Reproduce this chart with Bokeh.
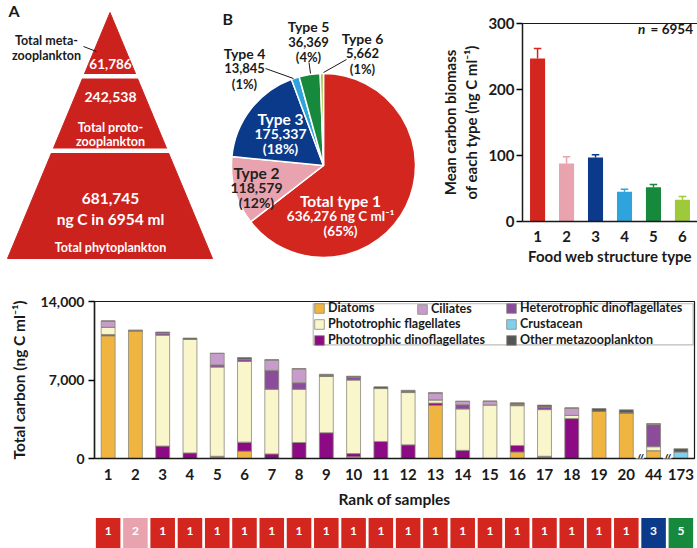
import math

from bokeh.core.properties import value
from bokeh.embed import file_html
from bokeh.layouts import column, row
from bokeh.models import (BoxAnnotation, ColumnDataSource, FixedTicker, Label,
                          Legend, LegendItem, LinearAxis, NumeralTickFormatter,
                          Range1d)
from bokeh.plotting import figure
from bokeh.resources import INLINE

FONT = "Lato"

# ---------------- data ----------------
# A: carbon of each trophic level (ng C in 6954 ml)
tier_names = ["Total metazooplankton", "Total protozooplankton", "Total phytoplankton"]
tier_carbon = [61786, 242538, 681745]

# B: total carbon by food web structure type (ng C ml^-1)
type_names = ["Type 1", "Type 2", "Type 3", "Type 4", "Type 5", "Type 6"]
type_totals = [636276, 118579, 175337, 13845, 36369, 5662]
type_colors = ["#d2261f", "#e8a3ae", "#0c3a8a", "#2ea3dc", "#17893d", "#9dc93b"]

# C: mean carbon biomass per type with standard error
type_ids = [1, 2, 3, 4, 5, 6]
type_mean = [247, 88, 97, 45, 52, 33]
type_err = [15, 10, 4, 4, 4, 5]

# D: carbon composition of the top-ranked samples
rank_labels = [str(i) for i in range(1, 21)] + ["44", "173"]
diatoms =        [10940, 11400,    0,     0,  120,  650,    0,    0,    0,  150,    0,    0, 4740,    0,    0,  580,  120,    0, 4220, 4080,  700,   0]
photo_dino =     [  120,     0, 1110,   500,   80,  810,  410, 1430, 2300,  290, 1520, 1220,  200,  730,    0,  580,   80, 3560,    0,    0,    0,   0]
photo_flag =     [  640,     0, 9890, 10130, 7950, 7190, 5760, 4740, 5010, 6550, 4720, 4660,  290, 3690, 4780, 3550, 4160,  290,    0,    0,  350,   0]
hetero_dino =    [    0,     0,  180,     0,  200,  200, 1690,  585,   80,  250,    0,   80,    0,  380,    0,  160,  250,    0,    0,    0, 1970,   0]
ciliates =       [  550,     0,    0,     0, 1020,    0,  930, 1250,    0,    0,    0,    0,  610,  290,  320,    0,    0,  640,    0,    0,   60,   0]
crustacean =     [    0,     0,    0,     0,    0,    0,    0,    0,    0,    0,    0,    0,    0,    0,    0,    0,    0,    0,    0,    0,    0, 580]
other_meta =     [    0,    60,  100,   110,    0,  150,    0,    0,  120,  100,  150,  120,    0,    0,    0,  100,  150,    0,  230,  260,    0, 290]
sample_type = [1, 2] + [1] * 18 + [3, 5]

group_names = ["Diatoms", "Phototrophic dinoflagellates", "Phototrophic flagellates",
               "Heterotrophic dinoflagellates", "Ciliates", "Crustacean", "Other metazooplankton"]
group_colors = ["#f0b440", "#8c0a84", "#faf6cc", "#8b4c9c", "#c79ccd", "#7fd0ee", "#555555"]

BLACK = "#1a1a1a"
TOP_H = 270  # height of the top row of panels


def style_common(p):
    p.toolbar_location = None
    p.background_fill_color = "white"
    p.border_fill_color = "white"
    p.grid.visible = False
    p.frame_align = False


def bare_figure(w, h):
    p = figure(width=w, height=h, x_range=Range1d(0, w), y_range=Range1d(0, h), title=None,
               x_axis_type=None, y_axis_type=None, toolbar_location=None,
               output_backend="svg", min_border=0)
    style_common(p)
    p.outline_line_color = None
    return p


# ---------------- A: pyramid ----------------
HA = TOP_H
pA = bare_figure(215, HA)

apex_x, apex_y, base_l, base_r, base_y = 109.5, 12, 7, 212, 258
pA.patch([base_l, apex_x, base_r], [HA - base_y, HA - apex_y, HA - base_y], color="#cb221e")
# white gaps separating the three trophic levels
gap_tops = [74, 148.5]
pA.quad(left=0, right=215, top=[HA - g for g in gap_tops], bottom=[HA - g - 3.5 for g in gap_tops],
        color="white")

pA.text(x=[8], y=[HA - 10], text=["A"], text_font=value(FONT), text_font_style="bold",
        text_font_size="16px", text_baseline="middle", text_color=BLACK)
pA.text(x=[46, 46], y=[HA - 40, HA - 55], text=["Total meta-", "zooplankton"],
        text_font=value(FONT), text_font_style="bold", text_font_size="12.5px",
        text_align="center", text_baseline="middle", text_color=BLACK)
pA.segment(x0=[83], y0=[HA - 46], x1=[96], y1=[HA - 51], line_color=BLACK, line_width=1)

fmt = [f"{v:,}" for v in tier_carbon]
pA.text(x=[110], y=[HA - 63], text=[fmt[0]], text_font=value(FONT),
        text_font_style="bold", text_font_size="13.5px", text_align="center",
        text_baseline="middle", text_color="white")
pA.text(x=[110], y=[HA - 96], text=[fmt[1]], text_font=value(FONT),
        text_font_style="bold", text_font_size="14px", text_align="center",
        text_baseline="middle", text_color="white")
pA.text(x=[110, 110], y=[HA - 127, HA - 141], text=["Total proto-", "zooplankton"],
        text_font=value(FONT), text_font_style="bold", text_font_size="12.5px",
        text_align="center", text_baseline="middle", text_color="white")
pA.text(x=[110, 110], y=[HA - 198, HA - 218], text=[fmt[2], "ng C in 6954 ml"],
        text_font=value(FONT), text_font_style="bold", text_font_size="15.5px",
        text_align="center", text_baseline="middle", text_color="white")
pA.text(x=[110], y=[HA - 247], text=["Total phytoplankton"], text_font=value(FONT),
        text_font_style="bold", text_font_size="12.5px", text_align="center",
        text_baseline="middle", text_color="white")

# ---------------- B: pie ----------------
HB = TOP_H
pB = bare_figure(220, HB)

total = sum(type_totals)
cum = [0.0]
for v in type_totals:
    cum.append(cum[-1] + v / total)
starts = [math.pi / 2 - 2 * math.pi * c for c in cum[:-1]]
ends = [math.pi / 2 - 2 * math.pi * c for c in cum[1:]]
cx, cy, r = 108, HB - 165, 92
pB.wedge(x=cx, y=cy, radius=r, start_angle=starts, end_angle=ends, direction="clock",
         fill_color=type_colors, line_color="white", line_width=1.5)

pct = [f"({round(v / total * 100)}%)" for v in type_totals]
num = [f"{v:,}" for v in type_totals]

pB.text(x=[7], y=[HB - 18], text=["B"], text_font=value(FONT), text_font_style="bold",
        text_font_size="16px", text_baseline="middle", text_color=BLACK)


def pie_label(x, ys, lines, color, sizes):
    for yy, t, s in zip(ys, lines, sizes):
        pB.text(x=[x - 215], y=[HB - yy], text=[t], text_font=value(FONT), text_font_style="bold",
                text_font_size=s, text_align="center", text_baseline="middle", text_color=color)


pie_label(308, [26, 41.5, 56.5], ["Type 5", num[4], pct[4]], BLACK, ["14px", "13px", "13px"])
pie_label(362, [38, 52.5, 68], ["Type 6", num[5], pct[5]], BLACK, ["14px", "13px", "13px"])
pie_label(244, [53, 67.5, 83], ["Type 4", num[3], pct[3]], BLACK, ["14px", "13px", "13px"])
pie_label(280, [118, 133.5, 148], ["Type 3", num[2], pct[2]], "white", ["15.5px", "14px", "14px"])
pie_label(256, [172, 187, 202], ["Type 2", num[1], pct[1]], "#222222", ["15.5px", "14px", "14px"])
pie_label(340, [200, 215, 230], ["Total type 1", num[0] + " ng C ml\u207b\u00b9", pct[0]], "white",
          ["15.5px", "13.5px", "13.5px"])

# leader lines for the small slices
pB.segment(x0=[265 - 215, 308.5 - 215, 346 - 215], y0=[HB - 68, HB - 62, HB - 59],
           x1=[293 - 215, 310 - 215, 323 - 215], y1=[HB - 78, HB - 73, HB - 72],
           line_color=BLACK, line_width=1)

# ---------------- C: mean biomass per type ----------------
pC = figure(width=262, height=TOP_H, x_range=Range1d(0.48, 6.52), y_range=Range1d(0, 300),
            toolbar_location=None, output_backend="svg",
            min_border_left=87, min_border_right=0, min_border_top=23,
            min_border_bottom=TOP_H - 221)
style_common(pC)
pC.outline_line_color = None
pC.vbar(x=type_ids, top=type_mean, width=0.52, fill_color=type_colors, line_color=None)
err_top = [m + e for m, e in zip(type_mean, type_err)]
pC.segment(x0=type_ids, y0=type_mean, x1=type_ids, y1=err_top, line_color=type_colors, line_width=1.5)
pC.segment(x0=[i - 0.13 for i in type_ids], y0=err_top, x1=[i + 0.13 for i in type_ids], y1=err_top,
           line_color=type_colors, line_width=1.5)

pC.yaxis.ticker = FixedTicker(ticks=[0, 100, 200, 300])
pC.xaxis.ticker = FixedTicker(ticks=type_ids)
for ax in (pC.xaxis[0], pC.yaxis[0]):
    ax.axis_line_color = BLACK
    ax.axis_line_width = 1.5
    ax.major_label_text_font = FONT
    ax.major_label_text_font_style = "bold"
    ax.major_label_text_font_size = "15px"
    ax.major_label_text_color = BLACK
    ax.axis_label_text_font = FONT
    ax.axis_label_text_font_style = "bold"
    ax.axis_label_text_font_size = "15px"
    ax.axis_label_text_color = BLACK
    ax.minor_tick_line_color = None
pC.yaxis.major_tick_out = 6
pC.yaxis.major_tick_in = 0
pC.yaxis.major_tick_line_width = 1.5
pC.yaxis.major_label_standoff = 2
pC.yaxis.axis_label = "Mean carbon biomass\nof each type (ng C ml\u207b\u00b9)"
pC.yaxis.axis_label_standoff = 5
pC.xaxis.major_tick_line_color = None
pC.xaxis.major_label_standoff = 3
pC.xaxis.axis_label = "Food web structure type"
pC.xaxis.axis_label_standoff = 2
pC.add_layout(LinearAxis(ticker=FixedTicker(ticks=[]), major_tick_line_color=None,
                         minor_tick_line_color=None, major_label_text_font_size="0px",
                         axis_line_color=BLACK, axis_line_width=1.2), "above")
pC.add_layout(Label(x=-70, y=200, x_units="screen", y_units="screen", text="C",
                    text_font=FONT, text_font_style="bold", text_font_size="16px",
                    text_align="center", text_baseline="middle", text_color=BLACK))
pC.text(x=[4.47], y=[291.5], text=["n"], text_font=value(FONT), text_font_style="bold italic",
        text_font_size="13.5px", text_baseline="middle", text_color=BLACK)
pC.text(x=[4.9], y=[291.5], text=["= 6954"], text_font=value(FONT), text_font_style="bold",
        text_font_size="13.5px", text_baseline="middle", text_color=BLACK)

# ---------------- D: stacked carbon composition ----------------
xs = list(range(1, len(rank_labels) + 1))
src = ColumnDataSource(dict(x=xs, diatoms=diatoms, photo_dino=photo_dino, photo_flag=photo_flag,
                            hetero_dino=hetero_dino, ciliates=ciliates, crustacean=crustacean,
                            other_meta=other_meta))
stackers = ["diatoms", "photo_dino", "photo_flag", "hetero_dino", "ciliates", "crustacean", "other_meta"]

D_TOP = 301 - TOP_H
pD = figure(width=697, height=510 - TOP_H, x_range=Range1d(0.5, len(xs) + 0.5), y_range=Range1d(0, 14000),
            toolbar_location=None, output_backend="svg",
            min_border_left=94, min_border_right=3, min_border_top=D_TOP, min_border_bottom=49)
style_common(pD)
pD.outline_line_color = BLACK
pD.outline_line_width = 1.2
rends = pD.vbar_stack(stackers, x="x", width=0.51, source=src, fill_color=group_colors,
                      line_color="#8a8878", line_width=0.8)

pD.xaxis.ticker = FixedTicker(ticks=xs)
pD.xaxis.major_label_overrides = {x: lab for x, lab in zip(xs, rank_labels)}
pD.yaxis.ticker = FixedTicker(ticks=[0, 7000, 14000])
pD.yaxis.formatter = NumeralTickFormatter(format="0,0")
for ax in (pD.xaxis[0], pD.yaxis[0]):
    ax.axis_line_color = BLACK
    ax.axis_line_width = 1.5
    ax.major_label_text_font = FONT
    ax.major_label_text_font_style = "bold"
    ax.major_label_text_color = BLACK
    ax.axis_label_text_font = FONT
    ax.axis_label_text_font_style = "bold"
    ax.axis_label_text_font_size = "15.5px"
    ax.axis_label_text_color = BLACK
    ax.minor_tick_line_color = None
pD.xaxis.major_label_text_font_size = "15px"
pD.yaxis.major_label_text_font_size = "14px"
pD.xaxis.major_tick_line_color = None
pD.xaxis.major_label_standoff = 4
pD.xaxis.axis_label = "Rank of samples"
pD.xaxis.axis_label_standoff = 7
pD.yaxis.major_tick_out = 6
pD.yaxis.major_tick_in = 0
pD.yaxis.major_tick_line_width = 1.5
pD.yaxis.major_label_standoff = 4
pD.yaxis.axis_label = "Total carbon (ng C ml\u207b\u00b9)"
pD.yaxis.axis_label_standoff = 10

pD.add_layout(Label(x=-85, y=178, x_units="screen", y_units="screen", text="D",
                    text_font=FONT, text_font_style="bold", text_font_size="16px",
                    text_baseline="middle", text_color=BLACK))
# axis breaks between non-consecutive ranks
for xb in (20.5, 21.5):
    pD.add_layout(Label(x=xb, y=0, text="//", text_font=FONT, text_font_style="bold",
                        text_font_size="12px", text_align="center", text_baseline="middle",
                        text_color=BLACK, background_fill_color="white"))

# legend: framed box with three columns
pD.add_layout(BoxAnnotation(left=8.52, right=22.45, bottom=10130, top=13800,
                            fill_color="white", fill_alpha=1, line_color=BLACK, line_width=1.2))
legend_cols = [
    ([0, 2, 1], 219, 111),
    ([4], 322, 142),
    ([3, 5, 6], 411, 111),
]
for idxs, lx, ly in legend_cols:
    leg = Legend(items=[LegendItem(label=group_names[i], renderers=[rends[i]]) for i in idxs],
                 location=(lx, ly), orientation="vertical", padding=0, margin=0, spacing=1,
                 glyph_width=12, glyph_height=12, label_height=12, label_standoff=3,
                 label_text_font=FONT, label_text_font_style="bold", label_text_font_size="12.5px",
                 label_text_color=BLACK, border_line_alpha=0, background_fill_alpha=0)
    pD.add_layout(leg)

# ---------------- type strip ----------------
pT = figure(width=697, height=38, x_range=Range1d(0.5, len(xs) + 0.5), y_range=Range1d(0, 1),
            title=None, x_axis_type=None, y_axis_type=None,
            toolbar_location=None, output_backend="svg",
            min_border_left=94, min_border_right=3, min_border_top=0, min_border_bottom=0)
style_common(pT)
pT.outline_line_color = None
strip_colors = [type_colors[t - 1] for t in sample_type]
pT.quad(left=[x - 0.45 for x in xs], right=[x + 0.45 for x in xs], bottom=-1, top=0.8,
        fill_color=strip_colors, line_color=None)
pT.text(x=xs, y=[0.45] * len(xs), text=[str(t) for t in sample_type], text_font=value(FONT),
        text_font_style="bold", text_font_size="12px", text_align="center", text_baseline="middle",
        text_color="white")
pT.add_layout(Label(x=-76, y=18, x_units="screen", y_units="screen", text="Type", angle=math.pi / 2,
                    text_font=FONT, text_font_style="bold", text_font_size="14px",
                    text_align="center", text_baseline="middle", text_color=BLACK))

layout = column(row(pA, pB, pC), pD, pT)
open("out.html", "w").write(file_html(layout, INLINE))
